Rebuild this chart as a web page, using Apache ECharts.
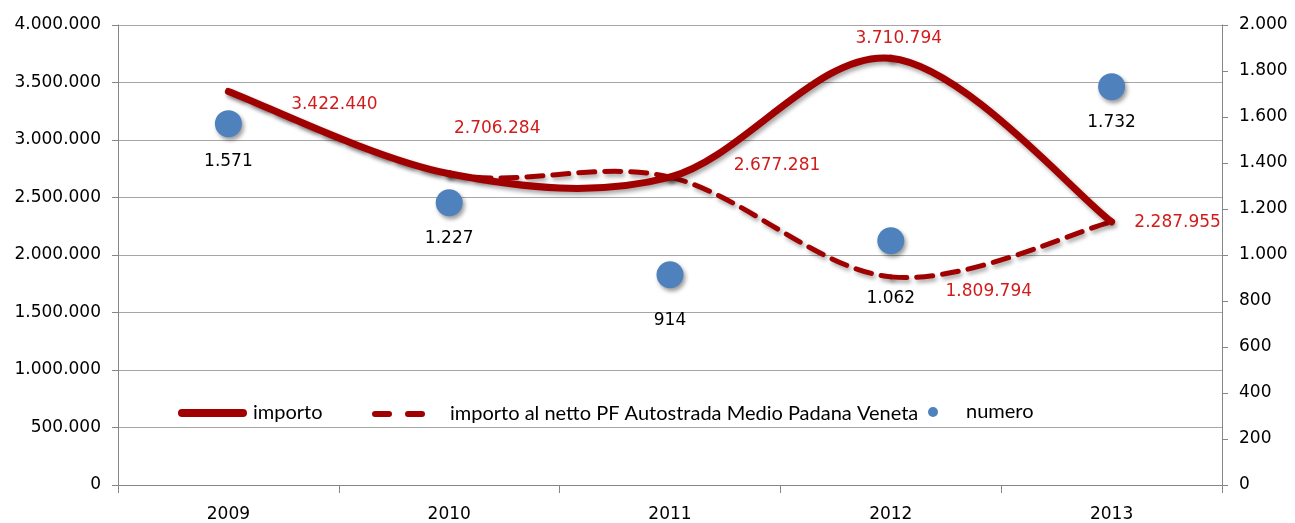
<!DOCTYPE html>
<html>
<head>
<meta charset="utf-8">
<script src="https://cdn.jsdelivr.net/npm/echarts@6/dist/echarts.min.js"></script>
<style>
html,body{margin:0;padding:0;background:#fff;}
#c{width:1295px;height:523px;}
</style>
</head>
<body>
<div id="c"></div>
<script>
const categories = ['2009', '2010', '2011', '2012', '2013'];
const importo = [3422440, 2706284, 2677281, 3710794, 2287955];
const importoNetto = [3422440, 2706284, 2677281, 1809794, 2287955];
const numero = [1571, 1227, 914, 1062, 1732];
const leftTicks = { min: 0, max: 4000000, interval: 500000 };
const rightTicks = { min: 0, max: 2000, interval: 200 };
const seriesNames = ['importo', 'importo al netto PF Autostrada Medio Padana Veneta', 'numero'];

// label placement (style, kept apart from data)
const importoLabelOffsets = [[106, 13], [48, -45], [107, -12], [8, -20], [66, 1]];
const importoLabelShown = [true, true, true, true, true];
const nettoLabelShown = [false, false, false, true, false];
const nettoLabelOffsets = [[0, 0], [0, 0], [0, 0], [98, 15], [0, 0]];
const numeroLabelExtra = [[0, 2], [0, 0], [0, 10], [0, 22], [0, 0]];

function fmt(v) {
  return String(Math.round(v)).replace(/\B(?=(\d{3})+(?!\d))/g, '.');
}

const RED = '#a00000';
const LABEL_RED = '#d21c1c';
const BLUE = '#4f81bd';
const FONT = 'DejaVu Sans';
const LFONT = 'Lato';

const chart = echarts.init(document.getElementById('c'), null, { renderer: 'canvas' });

// Smooth (cardinal / Catmull-Rom) curve segment from point i to i+1, in pixel space
function makeCurveRenderer(values, lineStyle, labelShown, labelOffsets) {
  return function (params, api) {
    const i = params.dataIndex;
    const n = values.length;
    const P = k => api.coord([Math.max(0, Math.min(n - 1, k)), values[Math.max(0, Math.min(n - 1, k))]]);
    const children = [];
    if (i < n - 1) {
      const p0 = P(i - 1), p1 = P(i), p2 = P(i + 1), p3 = P(i + 2);
      const c1 = [p1[0] + (p2[0] - p0[0]) / 6, p1[1] + (p2[1] - p0[1]) / 6];
      const c2 = [p2[0] - (p3[0] - p1[0]) / 6, p2[1] - (p3[1] - p1[1]) / 6];
      children.push({
        type: 'bezierCurve',
        shape: { x1: p1[0], y1: p1[1], cpx1: c1[0], cpy1: c1[1], cpx2: c2[0], cpy2: c2[1], x2: p2[0], y2: p2[1] },
        style: Object.assign({ fill: null, stroke: RED, lineCap: 'round' }, lineStyle)
      });
    }
    if (labelShown[i]) {
      const p = P(i);
      children.push({
        type: 'text',
        x: p[0] + labelOffsets[i][0],
        y: p[1] + labelOffsets[i][1],
        z2: 10,
        style: {
          text: fmt(values[i]), fill: LABEL_RED, font: '17px "' + FONT + '"',
          align: 'center', verticalAlign: 'middle'
        }
      });
    }
    return { type: 'group', children: children };
  };
}

const lineShadow = { shadowColor: 'rgba(0,0,0,0.35)', shadowBlur: 4, shadowOffsetX: 2, shadowOffsetY: 3 };

const legendText = { fontFamily: LFONT, fontSize: 20, color: '#000' };

const option = {
  animation: false,
  backgroundColor: '#fff',
  grid: { left: 118, right: 73, top: 25, bottom: 34, containLabel: false },
  legend: [
    {
      data: [{ name: seriesNames[0], icon: 'path://M4,0H65A4,4 0 0 1 65,8H4A4,4 0 0 1 4,0Z', itemStyle: { color: RED } }],
      left: 178, top: 403, padding: 0, itemWidth: 69, itemHeight: 8, itemGap: 0,
      textStyle: Object.assign({ padding: [0, 0, 0, 1] }, legendText), selectedMode: false
    },
    {
      data: [{ name: seriesNames[1], icon: 'path://M3,0H17A3,3 0 0 1 17,6H3A3,3 0 0 1 3,0Z M36,0H50A3,3 0 0 1 50,6H36A3,3 0 0 1 36,0Z', itemStyle: { color: RED } }],
      left: 372, top: 404, padding: 0, itemWidth: 53, itemHeight: 6, itemGap: 0,
      textStyle: Object.assign({ padding: [0, 0, 0, 20] }, legendText), selectedMode: false
    },
    {
      data: [{ name: seriesNames[2], icon: 'circle', itemStyle: { color: BLUE } }],
      left: 928, top: 402, padding: 0, itemWidth: 10, itemHeight: 10, itemGap: 0,
      textStyle: Object.assign({ padding: [0, 0, 0, 23] }, legendText), selectedMode: false
    }
  ],
  xAxis: {
    type: 'category',
    data: categories,
    boundaryGap: true,
    axisLine: { lineStyle: { color: '#868686', width: 1 } },
    axisTick: { show: true, length: 8, lineStyle: { color: '#868686' } },
    axisLabel: { fontFamily: FONT, fontSize: 17, color: '#000', margin: 21 }
  },
  yAxis: [
    {
      type: 'value', min: leftTicks.min, max: leftTicks.max, interval: leftTicks.interval,
      axisLine: { show: true, lineStyle: { color: '#868686' } },
      axisTick: { show: true, length: 6, lineStyle: { color: '#868686' } },
      splitLine: { show: true, lineStyle: { color: '#a6a6a6', width: 1 } },
      axisLabel: { fontFamily: FONT, fontSize: 17, color: '#000', margin: 17, formatter: fmt }
    },
    {
      type: 'value', min: rightTicks.min, max: rightTicks.max, interval: rightTicks.interval,
      position: 'right',
      axisLine: { show: true, lineStyle: { color: '#868686' } },
      axisTick: { show: true, length: 6, lineStyle: { color: '#868686' } },
      splitLine: { show: false },
      axisLabel: { fontFamily: FONT, fontSize: 17, color: '#000', margin: 17, formatter: fmt }
    }
  ],
  series: [
    {
      name: seriesNames[1],
      type: 'custom',
      yAxisIndex: 0,
      itemStyle: { color: RED },
      z: 2,
      encode: { x: 0, y: 1 },
      renderItem: makeCurveRenderer(importoNetto, Object.assign({ lineWidth: 5, lineDash: [16, 10] }, lineShadow), nettoLabelShown, nettoLabelOffsets),
      data: importoNetto.map((v, i) => [i, v])
    },
    {
      name: seriesNames[0],
      type: 'custom',
      yAxisIndex: 0,
      itemStyle: { color: RED },
      z: 3,
      encode: { x: 0, y: 1 },
      renderItem: makeCurveRenderer(importo, Object.assign({ lineWidth: 7 }, lineShadow), importoLabelShown, importoLabelOffsets),
      data: importo.map((v, i) => [i, v])
    },
    {
      name: seriesNames[2],
      type: 'scatter',
      yAxisIndex: 1,
      symbolSize: 27,
      itemStyle: { color: BLUE, opacity: 1, shadowColor: 'rgba(0,0,0,0.4)', shadowBlur: 4, shadowOffsetX: 2, shadowOffsetY: 3 },
      z: 4,
      data: numero.map((v, i) => ({
        value: v,
        label: {
          show: true, position: 'bottom', distance: 14, offset: numeroLabelExtra[i],
          formatter: p => fmt(p.value), color: '#000', fontFamily: FONT, fontSize: 17
        }
      }))
    }
  ]
};

chart.setOption(option);
</script>
</body>
</html>
